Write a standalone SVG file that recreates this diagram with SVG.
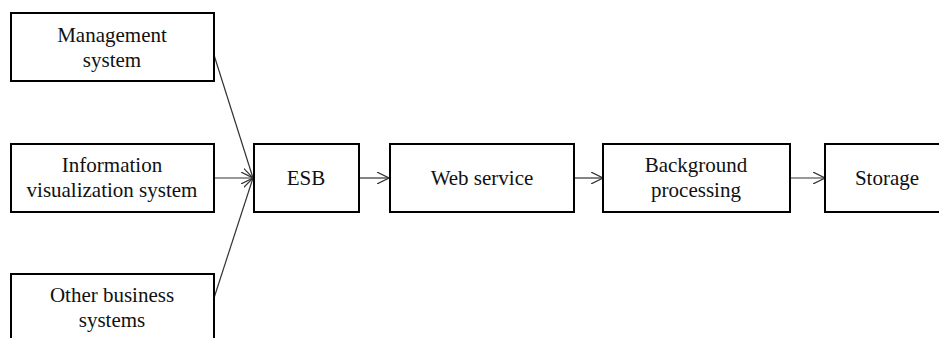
<svg xmlns="http://www.w3.org/2000/svg" width="939" height="338" viewBox="0 0 939 338">
<style>
.box{fill:#fff;stroke:#000;stroke-width:2}
.t{font-family:'Liberation Serif','Times New Roman',Times,Tinos,'Noto Serif','DejaVu Serif',serif;font-size:21px;fill:#111;text-anchor:middle}
.c{stroke:#333;stroke-width:1.2;fill:none;marker-end:url(#ah)}
</style>
<defs>
<marker id="ah" viewBox="0 0 12 12" refX="12" refY="6" markerWidth="12" markerHeight="12" markerUnits="userSpaceOnUse" orient="auto">
<path d="M0,0 L12,6 L0,12" fill="none" stroke="#333" stroke-width="1.2"/>
</marker>
</defs>
<rect width="939" height="338" fill="#fff"/>
<g id="connectors">
<line class="c" x1="214" y1="55" x2="253" y2="178"/>
<line class="c" x1="214" y1="178" x2="253" y2="178"/>
<line class="c" x1="214" y1="298" x2="253" y2="178"/>
<line class="c" x1="359" y1="178" x2="389" y2="178"/>
<line class="c" x1="574" y1="178" x2="603" y2="178"/>
<line class="c" x1="790" y1="178" x2="825" y2="178"/>
</g>
<g id="management">
<rect class="box" x="11" y="13" width="203" height="68"/>
<text class="t" x="112" y="42">Management</text>
<text class="t" x="112" y="67">system</text>
</g>
<g id="infovis">
<rect class="box" x="11" y="144" width="203" height="68"/>
<text class="t" x="112" y="172">Information</text>
<text class="t" x="112" y="197">visualization system</text>
</g>
<g id="other">
<rect class="box" x="11" y="274" width="203" height="70"/>
<text class="t" x="112" y="302">Other business</text>
<text class="t" x="112" y="327">systems</text>
</g>
<g id="esb">
<rect class="box" x="254" y="144" width="105" height="68"/>
<text class="t" x="306" y="185">ESB</text>
</g>
<g id="web">
<rect class="box" x="390" y="144" width="184" height="68"/>
<text class="t" x="482" y="185">Web service</text>
</g>
<g id="background">
<rect class="box" x="603" y="144" width="187" height="68"/>
<text class="t" x="696" y="172">Background</text>
<text class="t" x="696" y="197">processing</text>
</g>
<g id="storage">
<rect class="box" x="825" y="144" width="120" height="68"/>
<text class="t" x="887" y="185">Storage</text>
</g>
</svg>
